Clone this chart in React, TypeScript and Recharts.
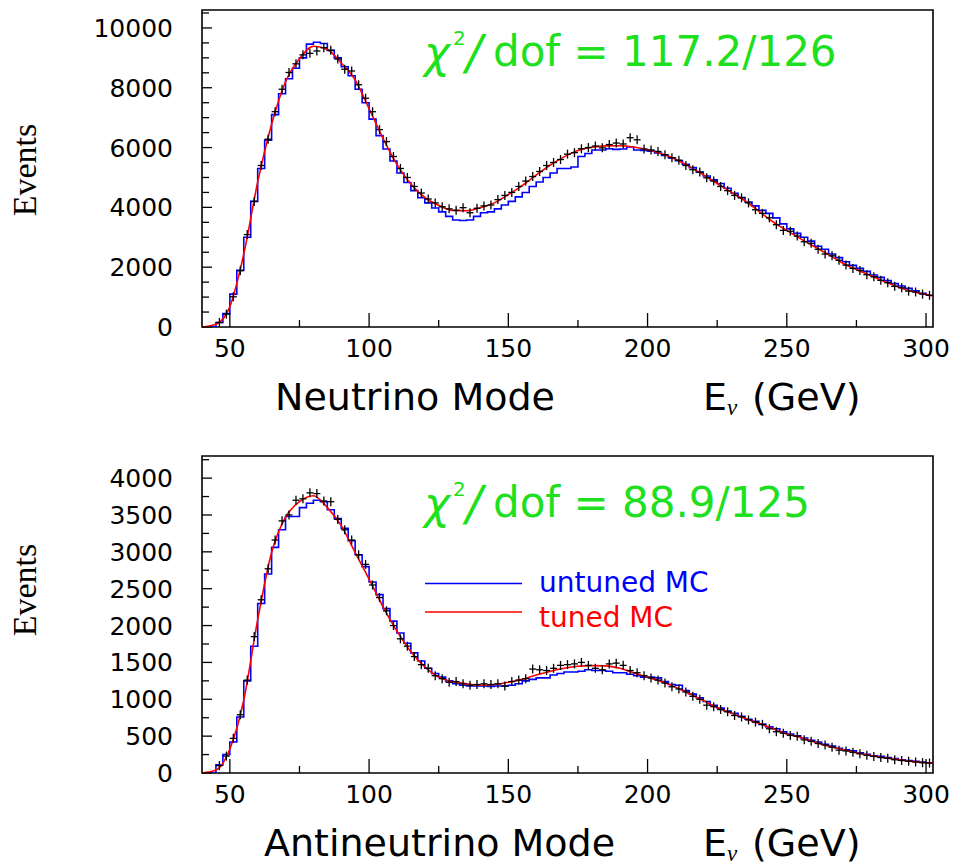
import React from 'react';
import { ComposedChart, Line, Scatter, XAxis, YAxis, ReferenceArea, Legend } from 'recharts';

// bin centres (GeV), 2.5 GeV bins
const ENERGY = [
  41.25, 43.75, 46.25, 48.75, 51.25, 53.75, 56.25, 58.75, 61.25, 63.75,
  66.25, 68.75, 71.25, 73.75, 76.25, 78.75, 81.25, 83.75, 86.25, 88.75,
  91.25, 93.75, 96.25, 98.75, 101.25, 103.75, 106.25, 108.75, 111.25, 113.75,
  116.25, 118.75, 121.25, 123.75, 126.25, 128.75, 131.25, 133.75, 136.25, 138.75,
  141.25, 143.75, 146.25, 148.75, 151.25, 153.75, 156.25, 158.75, 161.25, 163.75,
  166.25, 168.75, 171.25, 173.75, 176.25, 178.75, 181.25, 183.75, 186.25, 188.75,
  191.25, 193.75, 196.25, 198.75, 201.25, 203.75, 206.25, 208.75, 211.25, 213.75,
  216.25, 218.75, 221.25, 223.75, 226.25, 228.75, 231.25, 233.75, 236.25, 238.75,
  241.25, 243.75, 246.25, 248.75, 251.25, 253.75, 256.25, 258.75, 261.25, 263.75,
  266.25, 268.75, 271.25, 273.75, 276.25, 278.75, 281.25, 283.75, 286.25, 288.75,
  291.25, 293.75, 296.25, 298.75, 301.25,
];

// energies where the tuned MC curve is sampled
const TUNED_ENERGY = [
  40, 45, 50, 55, 60, 65, 70, 75, 80, 85, 90, 95, 100, 105, 110, 115, 120, 125,
  130, 135, 140, 145, 150, 155, 160, 165, 170, 175, 180, 185, 190, 195, 200, 205,
  210, 215, 220, 225, 230, 235, 240, 245, 250, 255, 260, 265, 270, 275, 280, 285,
  290, 295, 300, 302.5,
];

// neutrino mode
const NU_DATA = [
  null, null, 150, 430, 1010, 1880, 3090, 4200, 5400, 6280,
  7200, 7950, 8510, 8800, 9100, 9150, 9230, 9340, 9250, 8960,
  8620, 8560, 8100, 7650, 7200, 6600, 6200, 5700, 5300, 5000,
  4700, 4480, 4280, 4150, 4020, 3950, 3900, 3990, 3820, 3970,
  4050, 4080, 4260, 4400, 4500, 4700, 4880, 5030, 5200, 5400,
  5500, 5600, 5780, 5830, 5960, 6000, 6050, 5990, 6100, 6150,
  6120, 6330, 6260, 5950, 5920, 5870, 5760, 5660, 5580, 5400,
  5260, 5180, 4990, 4880, 4700, 4560, 4400, 4320, 4150, 3920,
  3800, 3650, 3420, 3230, 3200, 3040, 2850, 2800, 2600, 2440,
  2380, 2230, 2070, 1960, 1890, 1750, 1680, 1560, 1480, 1360,
  1310, 1200, 1170, 1100, 1060,
];
const NU_UNTUNED = [
  0, 0, 150, 450, 1100, 1900, 3000, 4200, 5300, 6250,
  7100, 7800, 8300, 8650, 9000, 9460, 9520, 9480, 9250, 9000,
  8700, 8400, 7950, 7500, 6950, 6400, 5950, 5550, 5150, 4830,
  4560, 4320, 4150, 3980, 3850, 3700, 3580, 3560, 3580, 3700,
  3820, 3850, 3950, 4080, 4200, 4350, 4500, 4700, 4850, 5000,
  5150, 5300, 5300, 5350, 5700, 5800, 5920, 5920, 5960, 5940,
  5950, 6020, 5920, 5900, 5880, 5820, 5740, 5650, 5560, 5440,
  5330, 5180, 5050, 4920, 4800, 4640, 4470, 4330, 4180, 4050,
  3900, 3800, 3650, 3450, 3280, 3130, 3000, 2870, 2700, 2600,
  2440, 2320, 2180, 2060, 1960, 1860, 1740, 1660, 1550, 1450,
  1370, 1290, 1210, 1130, 1080,
];
const NU_TUNED = [
  0, 90, 680, 2440, 4850, 6780, 8200, 8970, 9390, 9280, 8830, 8260, 7300, 6310,
  5440, 4780, 4330, 4070, 3900, 3885, 3990, 4150, 4430, 4730, 5080, 5410, 5690,
  5900, 6010, 6055, 6060, 6020, 5930, 5790, 5610, 5370, 5090, 4800, 4510, 4220,
  3870, 3520, 3233, 2945, 2680, 2420, 2140, 1920, 1720, 1520, 1340, 1190, 1090,
  1040,
];

// antineutrino mode
const NUBAR_DATA = [
  null, null, 100, 230, 470, 790, 1260, 1850, 2350, 2770,
  3160, 3420, 3500, 3700, 3720, 3800, 3790, 3690, 3680, 3440,
  3300, 3160, 2960, 2830, 2550, 2380, 2200, 2000, 1820, 1720,
  1580, 1470, 1420, 1320, 1280, 1230, 1240, 1210, 1190, 1200,
  1210, 1200, 1210, 1180, 1240, 1260, 1280, 1410, 1400, 1390,
  1420, 1460, 1470, 1480, 1500, 1460, 1420, 1400, 1480, 1490,
  1460, 1390, 1360, 1320, 1290, 1260, 1220, 1170, 1140, 1100,
  1040, 1000, 920, 900, 860, 830, 780, 760, 720, 690,
  660, 600, 560, 540, 510, 500, 450, 430, 400, 380,
  350, 310, 300, 280, 260, 240, 225, 210, 200, 180,
  170, 160, 150, 140, 135,
];
const NUBAR_UNTUNED = [
  0, 0, 110, 250, 420, 760, 1250, 1720, 2300, 2700,
  3060, 3300, 3480, 3480, 3600, 3660, 3700, 3680, 3570, 3450,
  3320, 3150, 2960, 2800, 2590, 2420, 2230, 2060, 1900, 1760,
  1630, 1520, 1420, 1350, 1300, 1250, 1210, 1190, 1180, 1180,
  1180, 1175, 1180, 1180, 1190, 1210, 1250, 1270, 1290, 1290,
  1330, 1350, 1370, 1370, 1380, 1400, 1390, 1390, 1380, 1360,
  1360, 1340, 1320, 1300, 1300, 1290, 1240, 1200, 1190, 1120,
  1070, 1020, 970, 920, 880, 840, 810, 770, 730, 700,
  660, 625, 600, 560, 530, 505, 475, 445, 420, 390,
  365, 335, 315, 300, 275, 255, 235, 225, 210, 195,
  180, 170, 160, 150, 140,
];
const NUBAR_TUNED = [
  0, 40, 325, 990, 2080, 2990, 3470, 3680, 3760, 3600, 3355, 2990, 2630, 2255,
  1925, 1645, 1440, 1300, 1238, 1210, 1190, 1200, 1232, 1270, 1330, 1378, 1420,
  1447, 1456, 1453, 1420, 1358, 1300, 1240, 1165, 1075, 983, 888, 812, 742, 670,
  600, 529, 482, 420, 363, 318, 274, 237, 206, 182, 158, 140, 134,
];

const X_TICKS = [50, 75, 100, 125, 150, 175, 200, 225, 250, 275, 300];
const NU_Y_TICKS = [
  0, 500, 1000, 1500, 2000, 2500, 3000, 3500, 4000, 4500, 5000, 5500,
  6000, 6500, 7000, 7500, 8000, 8500, 9000, 9500, 10000, 10500,
];
const NUBAR_Y_TICKS = [
  0, 250, 500, 750, 1000, 1250, 1500, 1750, 2000, 2250, 2500, 2750,
  3000, 3250, 3500, 3750, 4000, 4250,
];

const LEGEND_ITEMS = [
  { label: 'untuned MC', color: '#0000ff' },
  { label: 'tuned MC', color: '#ff0000' },
];

const SANS = 'DejaVu Sans';
const GREEN = '#1ee01e';

function XTick({ x, y, payload }: any) {
  const major = payload.value % 50 === 0;
  return (
    <g>
      <line x1={x} x2={x} y1={y} y2={y - (major ? 14 : 7)} stroke="#000" strokeWidth={1.3} />
      {major && (
        <text x={x} y={y + 30} textAnchor="middle" fontFamily={SANS} fontSize={25} fill="#000">
          {payload.value}
        </text>
      )}
    </g>
  );
}

function makeYTick(labelStep: number) {
  return ({ x, y, payload }: any) => {
    const major = payload.value % labelStep === 0;
    return (
      <g>
        <line x1={x} x2={x + (major ? 10 : 7)} y1={y} y2={y} stroke="#000" strokeWidth={1.3} />
        {major && (
          <text x={x - 29} y={y + 9} textAnchor="end" fontFamily={SANS} fontSize={25} fill="#000">
            {payload.value}
          </text>
        )}
      </g>
    );
  };
}

function DataCross({ cx, cy }: any) {
  if (cx == null || cy == null) return null;
  return (
    <g stroke="#000" strokeWidth={1.3}>
      <line x1={cx - 3.5} x2={cx + 3.5} y1={cy} y2={cy} />
      <line x1={cx} x2={cx} y1={cy - 4.5} y2={cy + 4.5} />
    </g>
  );
}

function MCLegend() {
  return (
    <svg width={300} height={75}>
      {LEGEND_ITEMS.map((item, i) => (
        <g key={item.label}>
          <line x1={5} x2={102} y1={23.5 + i * 28.5} y2={23.5 + i * 28.5} stroke={item.color} strokeWidth={1.6} />
          <text x={119} y={31.5 + i * 35} fontFamily={SANS} fontSize={28} fill={item.color}>
            {item.label}
          </text>
        </g>
      ))}
    </svg>
  );
}

interface PanelProps {
  top: number;
  height: number;
  xAxisHeight: number;
  yMax: number;
  yTicks: number[];
  labelStep: number;
  data: (number | null)[];
  untuned: number[];
  tuned: number[];
  showLegend?: boolean;
}

function Panel({ top, height, xAxisHeight, yMax, yTicks, labelStep, data, untuned, tuned, showLegend }: PanelProps) {
  const rows = ENERGY.map((e, i) => ({ e, data: data[i], untuned: untuned[i] }));
  const points = rows.filter((r) => r.data !== null);
  const tunedRows = TUNED_ENERGY.map((e, i) => ({ e, tuned: tuned[i] }));

  return (
    <div style={{ position: 'absolute', left: 0, top }}>
      <ComposedChart width={956} height={height} data={rows} margin={{ top: 10, right: 23, bottom: 0, left: 0 }}>
        <XAxis
          type="number"
          dataKey="e"
          domain={[40, 302.5]}
          allowDataOverflow
          ticks={X_TICKS}
          interval={0}
          tickSize={0}
          tickMargin={0}
          tickLine={false}
          axisLine={false}
          height={xAxisHeight}
          tick={XTick}
        />
        <YAxis
          type="number"
          domain={[0, yMax]}
          allowDataOverflow
          ticks={yTicks}
          interval={0}
          tickSize={0}
          tickMargin={0}
          tickLine={false}
          axisLine={false}
          width={202}
          tick={makeYTick(labelStep)}
        />
        <Line dataKey="untuned" type="step" stroke="#0000ff" strokeWidth={1.6} dot={false} isAnimationActive={false} />
        <Scatter data={points} dataKey="data" shape={DataCross} isAnimationActive={false} />
        <Line data={tunedRows} dataKey="tuned" type="monotone" stroke="#ff0000" strokeWidth={1.6} dot={false} isAnimationActive={false} />
        <ReferenceArea x1={40} x2={302.5} y1={0} y2={yMax} fill="none" stroke="#000" strokeWidth={1.6} ifOverflow="visible" />
        {showLegend && (
          <Legend
            verticalAlign="middle"
            align="center"
            content={() => <MCLegend />}
            wrapperStyle={{ left: 420, top: 114, width: 300, height: 75 }}
          />
        )}
      </ComposedChart>
    </div>
  );
}

function Chi2({ y, value }: { y: number; value: string }) {
  return (
    <g fill={GREEN} fontFamily={SANS}>
      <text x={424} y={y + 2} fontSize={44} fontStyle="italic">χ</text>
      <text x={453} y={y - 21} fontSize={20}>2</text>
      <text x={466} y={y + 3} fontSize={48} fontStyle="italic">/</text>
      <text x={493} y={y} fontSize={42}>{`dof = ${value}`}</text>
    </g>
  );
}

function AxisTitles({ axisY, mode }: { axisY: number; mode: string }) {
  const base = axisY + 83;
  return (
    <g fontFamily={SANS} fill="#000">
      <text x={mode === 'Neutrino Mode' ? 275 : 264} y={base} fontSize={38}>{mode}</text>
      <text x={703} y={base} fontSize={38}>E</text>
      <text x={727} y={base + 5} fontSize={23} fontStyle="italic" fontFamily="Liberation Serif">ν</text>
      <text x={752} y={base} fontSize={38}>(GeV)</text>
    </g>
  );
}

export default function App() {
  return (
    <div style={{ position: 'absolute', left: 0, top: 0, width: 956, height: 865, background: '#fff', overflow: 'hidden' }}>
      <Panel
        top={0}
        height={440}
        xAxisHeight={113}
        yMax={10600}
        yTicks={NU_Y_TICKS}
        labelStep={2000}
        data={NU_DATA}
        untuned={NU_UNTUNED}
        tuned={NU_TUNED}
      />
      <Panel
        top={446}
        height={420}
        xAxisHeight={93}
        yMax={4300}
        yTicks={NUBAR_Y_TICKS}
        labelStep={500}
        data={NUBAR_DATA}
        untuned={NUBAR_UNTUNED}
        tuned={NUBAR_TUNED}
        showLegend
      />
      <svg width={956} height={865} style={{ position: 'absolute', left: 0, top: 0, pointerEvents: 'none' }}>
        <text transform="translate(36,170) rotate(-90)" textAnchor="middle" fontFamily="Liberation Serif" fontSize={34}>
          Events
        </text>
        <text transform="translate(36,590) rotate(-90)" textAnchor="middle" fontFamily="Liberation Serif" fontSize={34}>
          Events
        </text>
        <AxisTitles axisY={327} mode="Neutrino Mode" />
        <AxisTitles axisY={773} mode="Antineutrino Mode" />
        <Chi2 y={66} value="117.2/126" />
        <Chi2 y={517} value="88.9/125" />
      </svg>
    </div>
  );
}
